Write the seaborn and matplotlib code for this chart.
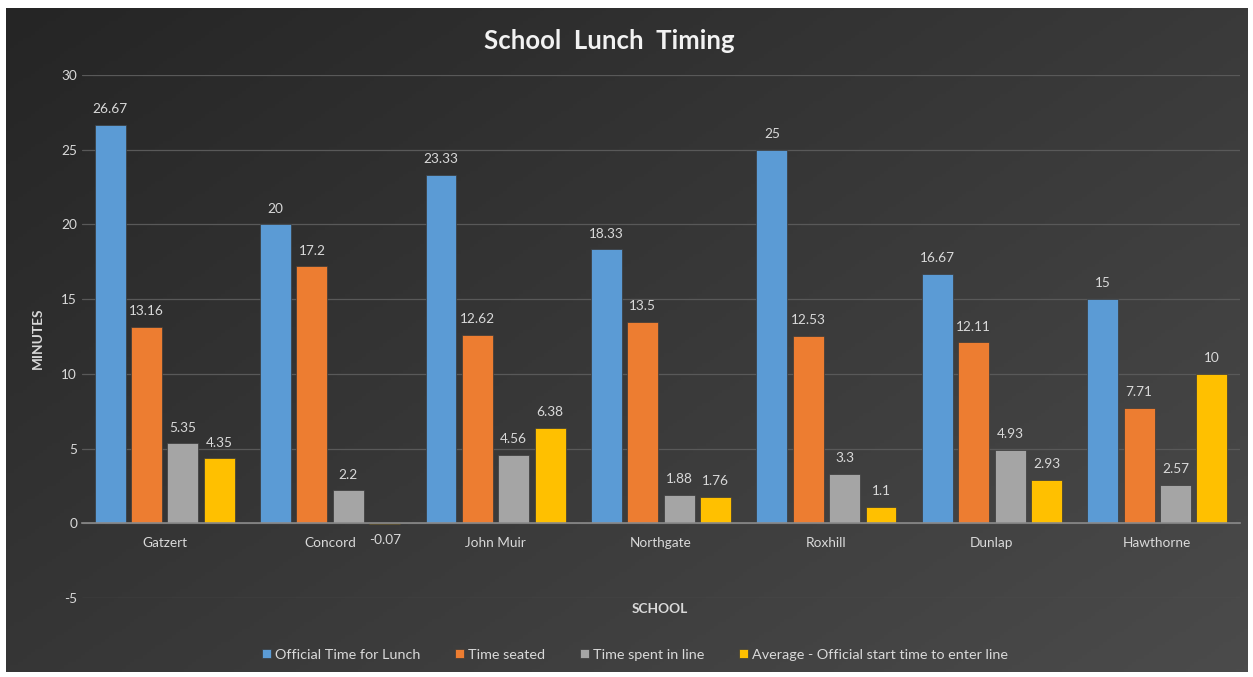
import matplotlib
matplotlib.use("Agg")
import matplotlib.pyplot as plt
import numpy as np
import pandas as pd
import seaborn as sns

# Data
schools = ["Gatzert", "Concord", "John Muir", "Northgate", "Roxhill", "Dunlap", "Hawthorne"]
series = ["Official Time for Lunch", "Time seated", "Time spent in line",
          "Average - Official start time to enter line"]
official = [26.67, 20, 23.33, 18.33, 25, 16.67, 15]
seated = [13.16, 17.2, 12.62, 13.5, 12.53, 12.11, 7.71]
in_line = [5.35, 2.2, 4.56, 1.88, 3.3, 4.93, 2.57]
average = [4.35, -0.07, 6.38, 1.76, 1.1, 2.93, 10]
colors = ["#5b9bd5", "#ed7d31", "#a5a5a5", "#ffc000"]

rows = []
for name, vals in zip(series, [official, seated, in_line, average]):
    for s, v in zip(schools, vals):
        rows.append({"school": s, "series": name, "minutes": v})
df = pd.DataFrame(rows)

sns.set_theme(style="dark")
plt.rcParams["font.family"] = ["Lato", "DejaVu Sans"]
plt.rcParams["axes.unicode_minus"] = False

fig = plt.figure(figsize=(12.53, 6.77), dpi=100)
fig.patch.set_facecolor("white")

# dark gradient background panel
bg = fig.add_axes([6 / 1253, 5 / 677, 1242 / 1253, 664 / 677])
yy, xx = np.mgrid[0:1:200j, 0:1:300j]
grad = 0.55 * xx + 0.45 * (1 - yy)
bg.imshow(grad, cmap=matplotlib.colors.LinearSegmentedColormap.from_list(
    "bgc", ["#252525", "#4b4b4b"]), aspect="auto", origin="lower", extent=[0, 1, 0, 1])
bg.set_axis_off()

ax = fig.add_axes([82 / 1253, 1 - 598 / 677, 1158 / 1253, (598 - 75) / 677])
ax.set_facecolor("none")
sns.barplot(data=df, x="school", y="minutes", hue="series", palette=colors,
            width=0.88, gap=0.15, ax=ax, edgecolor="#3a3a3a", linewidth=0.5,
            saturation=1)

ax.set_ylim(-5, 30)
ax.set_yticks(range(-5, 31, 5))
ax.set_xlim(-0.5, len(schools) - 0.5)
ax.grid(axis="y", color="#595959", linewidth=0.9)
ax.grid(axis="x", visible=False)
ax.set_axisbelow(True)
for sp in ["top", "right", "left"]:
    ax.spines[sp].set_visible(False)
ax.spines["bottom"].set_position(("data", 0))
ax.spines["bottom"].set_color("#8a8a8a")
ax.spines["bottom"].set_linewidth(1.2)
ax.spines["bottom"].set_zorder(1)
ax.tick_params(axis="both", length=0, colors="#d9d9d9", labelsize=9.8)
ax.tick_params(axis="x", pad=10)

for cont in ax.containers:
    ax.bar_label(cont, fmt="%g", padding=7, color="#d9d9d9", fontsize=9.8)

ax.set_xlabel("")
ax.set_ylabel("")
fig.text(660 / 1253, 1 - 609 / 677, "SCHOOL", ha="center", va="center",
         color="#d9d9d9", fontsize=9.8, fontweight="bold")
fig.text(38 / 1253, 1 - 338 / 677, "MINUTES", ha="center", va="center",
         rotation=90, color="#d9d9d9", fontsize=9.8, fontweight="bold")
fig.text(609 / 1253, 1 - 41 / 677, "School  Lunch  Timing", ha="center", va="center",
         color="#f2f2f2", fontsize=18.5, fontweight="bold")

handles, labels = ax.get_legend_handles_labels()
ax.get_legend().remove()
fig.legend(handles, labels, loc="center", bbox_to_anchor=(635 / 1253, 1 - 655 / 677),
           ncol=4, frameon=False, fontsize=10.4, labelcolor="#d9d9d9",
           handlelength=0.6, handleheight=0.6, handletextpad=0.3, columnspacing=2.4)

fig.savefig("out.png", dpi=100)
